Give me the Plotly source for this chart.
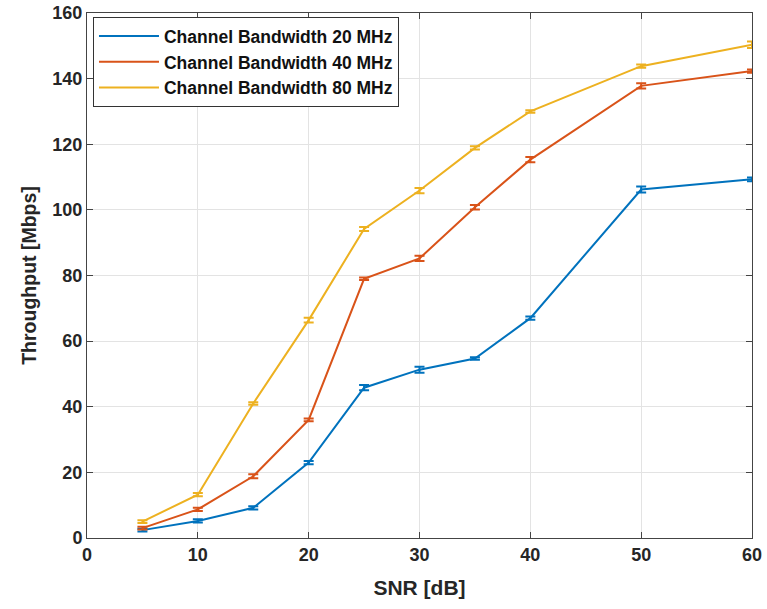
import plotly.graph_objects as go

snr = [5, 10, 15, 20, 25, 30, 35, 40, 50, 60]
bw20 = [2.4, 5.2, 9.2, 23.0, 45.8, 51.3, 54.7, 67.0, 106.2, 109.3]
bw40 = [3.0, 8.7, 18.8, 36.0, 79.0, 85.2, 100.8, 115.3, 137.8, 142.3]
bw80 = [5.0, 13.2, 41.0, 66.4, 94.2, 105.9, 118.9, 130.0, 143.8, 150.3]
err20 = [0.4, 0.5, 0.5, 0.5, 0.8, 0.9, 0.4, 0.5, 0.9, 0.6]
err40 = [0.4, 0.5, 0.6, 0.4, 0.4, 0.8, 0.7, 0.8, 0.8, 0.5]
err80 = [0.4, 0.5, 0.4, 0.7, 0.6, 0.8, 0.5, 0.4, 0.5, 1.0]
names = ["Channel Bandwidth 20 MHz", "Channel Bandwidth 40 MHz", "Channel Bandwidth 80 MHz"]
colors = ["#0072BD", "#D95319", "#EDB120"]

fig = go.Figure()
for y, e, n, c in zip([bw20, bw40, bw80], [err20, err40, err80], names, colors):
    fig.add_trace(go.Scatter(
        x=snr, y=y, name=n, mode="lines",
        line=dict(color=c, width=2),
        error_y=dict(type="data", array=e, visible=True, color=c, thickness=2, width=5),
    ))

FONT = "Liberation Sans, Arial"
axis_common = dict(
    showline=True, linecolor="#444444", linewidth=1, mirror="ticks",
    ticks="inside", ticklen=6, tickcolor="#444444",
    showgrid=True, gridcolor="#E3E3E3", gridwidth=1, zeroline=False,
    automargin=False,
    tickfont=dict(family=FONT, size=18, color="#262626", weight="bold"),
)

fig.update_layout(
    width=767, height=609,
    margin=dict(l=87, r=15, t=13, b=71),
    paper_bgcolor="white", plot_bgcolor="white",
    xaxis=dict(range=[0, 60], tickvals=[0, 10, 20, 30, 40, 50, 60],
               title=dict(text="SNR [dB]", standoff=16,
                          font=dict(family=FONT, size=21, color="#262626", weight="bold")),
               **axis_common),
    yaxis=dict(range=[0, 160], tickvals=[0, 20, 40, 60, 80, 100, 120, 140, 160],
               title=dict(text="Throughput [Mbps]", standoff=10,
                          font=dict(family=FONT, size=19.5, color="#262626", weight="bold")),
               **axis_common),
    legend=dict(x=0.009, y=0.992, xanchor="left", yanchor="top",
                bgcolor="white", bordercolor="#333333", borderwidth=1,
                font=dict(family=FONT, size=17.5, color="#111111", weight="bold"),
                tracegroupgap=0, itemwidth=60),
    showlegend=True,
)

fig.write_html("out.html")
